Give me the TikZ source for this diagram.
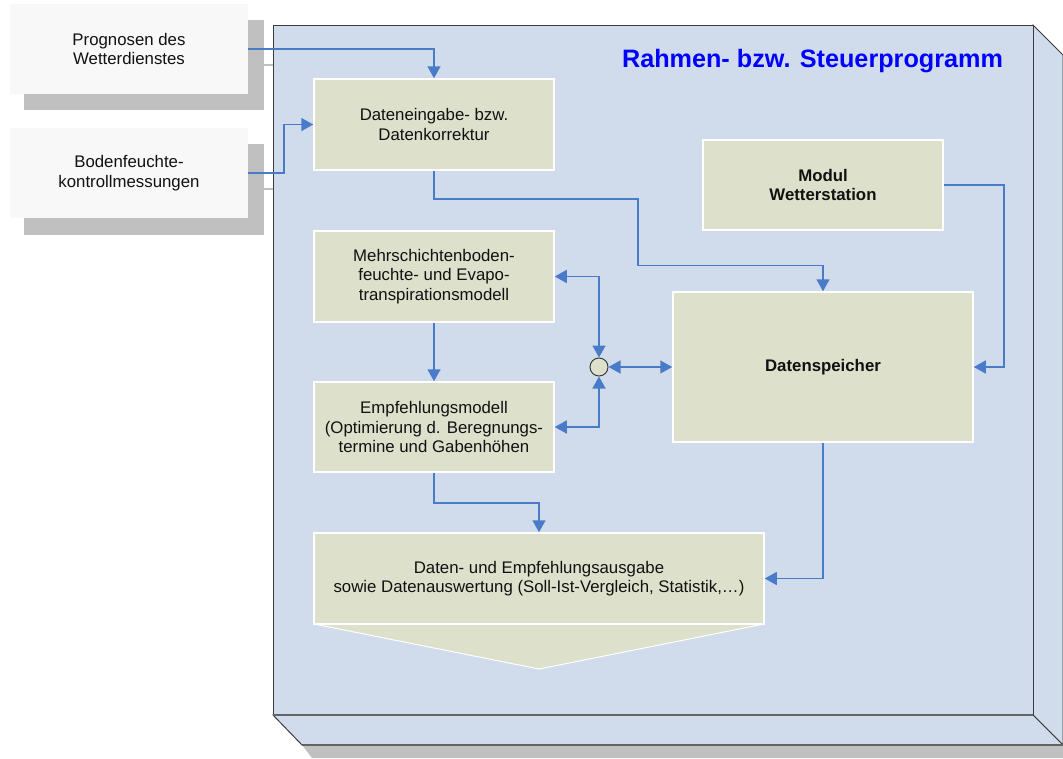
\documentclass[tikz,border=0pt]{standalone}
\usepackage{fontspec}
\setmainfont{Liberation Sans}
\usetikzlibrary{arrows.meta,calc}
\definecolor{frontblue}{HTML}{D0DCEC}
\definecolor{boxfill}{HTML}{DDE1CC}
\definecolor{arrowblue}{HTML}{4A7BC8}
\definecolor{shadowgrey}{HTML}{C0C0C0}
\definecolor{inputfill}{HTML}{F8F8F8}
\definecolor{edgegrey}{HTML}{3C3C3C}
\definecolor{textdark}{HTML}{111111}
\begin{document}
\begin{tikzpicture}[x=1pt,y=-1pt,
  txt/.style={font=\fontsize{16.8}{19.6}\selectfont, align=center, text=textdark},
  modbox/.style={txt, draw=white, line width=1.5pt, fill=boxfill, inner sep=0pt},
  inbox/.style={txt, fill=inputfill, inner sep=0pt, minimum width=238pt, minimum height=90pt},
  conn/.style={draw=arrowblue, line width=1.5pt},
  tip/.style={-{Triangle[length=12pt,width=13pt]}},
  twotips/.style={{Triangle[length=12pt,width=13pt]}-{Triangle[length=12pt,width=13pt]}}
]
\useasboundingbox (0,0) rectangle (1063,758);

% ---- input boxes with shadows ----
\fill[shadowgrey] (24,20) rectangle (264,110);
\fill[shadowgrey] (24,144) rectangle (264,235);
\draw[shadowgrey, line width=1.5pt] (264,65) -- (274,65);
\draw[shadowgrey, line width=1.5pt] (264,189) -- (274,189);
\node[inbox] (prog) at (129,49) {Prognosen des\\Wetterdienstes};
\node[inbox] (bod) at (129,173) {Bodenfeuchte-\\kontrollmessungen};

% ---- main 3D frame ----
\fill[shadowgrey] (302,745) -- (1063,745) -- (1063,758) -- (312,758) -- cycle;
\filldraw[fill=frontblue, draw=edgegrey, line width=1pt] (1033,25) -- (1063,55) -- (1063,745) -- (1033,715) -- cycle;
\filldraw[fill=frontblue, draw=edgegrey, line width=1pt] (273,715) -- (1033,715) -- (1063,745) -- (302,745) -- cycle;
\filldraw[fill=frontblue, draw=edgegrey, line width=1pt] (273,25) rectangle (1033,715);
\draw[edgegrey!80, line width=2pt] (273,715) -- (1033,715);
\draw[edgegrey!80, line width=2pt] (302,745) -- (1063,745);

\node[font=\fontsize{25.2}{28}\selectfont\bfseries, text=blue] (title) at (812.5,61) {Rahmen- bzw. Steuerprogramm};

% ---- modules ----
\node[modbox, minimum width=240pt, minimum height=91pt] (dat) at (434,124.5) {Dateneingabe- bzw.\\Datenkorrektur};
\node[modbox, minimum width=240pt, minimum height=90pt, font=\fontsize{16.8}{19.6}\selectfont\bfseries] (wet) at (823,185) {Modul\\Wetterstation};
\node[modbox, minimum width=240pt, minimum height=91pt] (mehr) at (434,276.5) {Mehrschichtenboden-\\feuchte- und Evapo-\\transpirationsmodell};
\node[modbox, minimum width=240pt, minimum height=90pt] (emp) at (434,427) {Empfehlungsmodell\\(Optimierung d. Beregnungs-\\termine und Gabenh\"ohen};
\node[modbox, minimum width=300pt, minimum height=150pt, font=\fontsize{16.8}{19.6}\selectfont\bfseries] (sp) at (823,367) {Datenspeicher};
\filldraw[fill=boxfill, draw=white, line width=1pt] (314,624) -- (764,624) -- (539,669) -- cycle;
\node[modbox, minimum width=450pt, minimum height=91pt] (aus) at (539,578.5) {Daten- und Empfehlungsausgabe\\sowie Datenauswertung (Soll-Ist-Vergleich, Statistik,\dots)};
\node[circle, draw=edgegrey, line width=1pt, fill=boxfill, minimum size=18pt, inner sep=0pt] (j) at (599,367) {};

% ---- connectors ----
\draw[conn, tip] (prog.east) -| (dat.north);
\draw[conn, tip] (bod.east) -- ++(36,0) |- (dat.west);
\draw[conn, tip] (dat.south) -- ++(0,28) -| ($(sp.north)+(-185,-26)$) -| (sp.north);
\draw[conn, tip] (wet.east) -- ++(60,0) |- (sp.east);
\draw[conn, tip] (mehr.south) -- (emp.north);
\draw[conn, twotips] (j.north) |- (mehr.east);
\draw[conn, twotips] (j.south) |- (emp.east);
\draw[conn, twotips] (j.east) -- (sp.west);
\draw[conn, tip] (emp.south) -- ++(0,30) -| (aus.north);
\draw[conn, tip] (sp.south) |- (aus.east);
\end{tikzpicture}
\end{document}
